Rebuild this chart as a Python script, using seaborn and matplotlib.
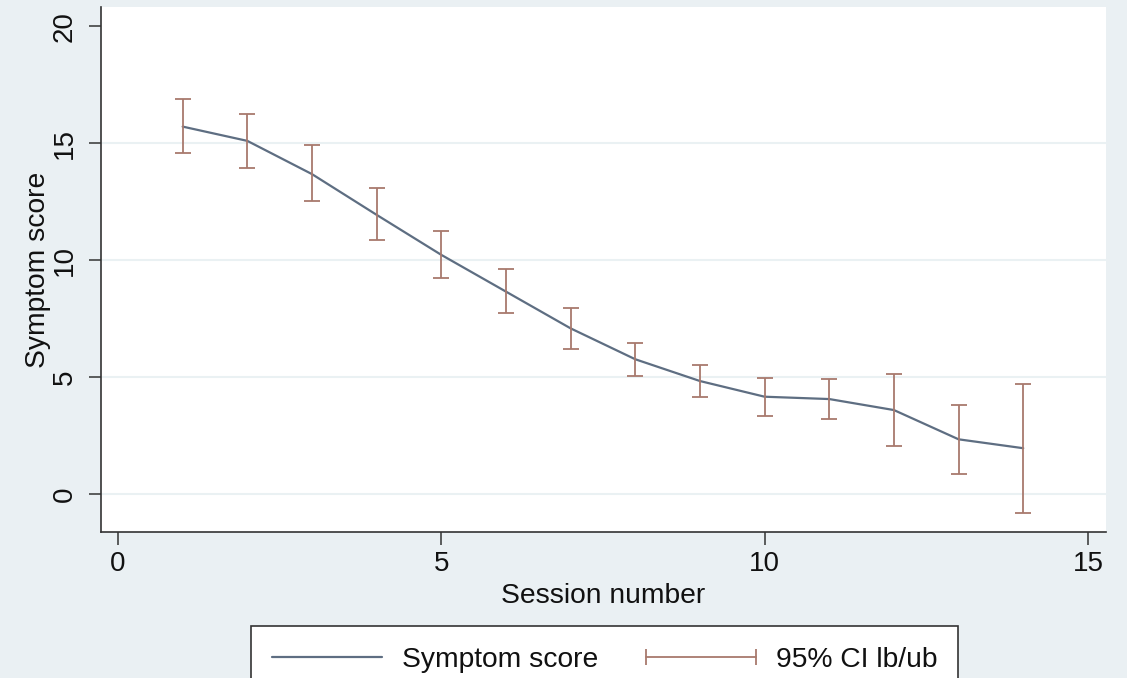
import pandas as pd
import seaborn as sns
import matplotlib.pyplot as plt
from matplotlib.lines import Line2D
from matplotlib.legend_handler import HandlerLine2D

# values
sessions = [1, 2, 3, 4, 5, 6, 7, 8, 9, 10, 11, 12, 13, 14]
score = [15.71, 15.10, 13.68, 11.94, 10.23, 8.66, 7.09, 5.77, 4.84, 4.17, 4.07, 3.60, 2.35, 1.97]
ci_lb = [14.57, 13.96, 12.55, 10.85, 9.23, 7.75, 6.20, 5.06, 4.17, 3.35, 3.23, 2.08, 0.87, -0.81]
ci_ub = [16.88, 16.26, 14.91, 13.08, 11.26, 9.64, 7.95, 6.45, 5.53, 4.98, 4.91, 5.13, 3.83, 4.71]

df = pd.DataFrame({"session": sessions, "score": score, "lb": ci_lb, "ub": ci_ub})

BG = "#EAF0F3"
LINE_C = "#5E6E82"
CI_C = "#A8796D"
AX_C = "#333333"

sns.set_theme(style="white")
plt.rcParams["font.family"] = ["Liberation Sans", "DejaVu Sans"]

fig = plt.figure(figsize=(11.27, 6.78), dpi=100, facecolor=BG)
ax = fig.add_axes([101 / 1127, 1 - 532 / 678, (1106 - 101) / 1127, (532 - 7) / 678])
ax.set_facecolor("white")

# grid lines (Stata style: light, not at top tick)
for g in [0, 5, 10, 15]:
    ax.axhline(g, color="#EAF1F3", lw=1.5, zorder=0)

sns.lineplot(data=df, x="session", y="score", ax=ax, color=LINE_C, lw=1.6, zorder=2)
ax.errorbar(df["session"], (df["lb"] + df["ub"]) / 2, yerr=(df["ub"] - df["lb"]) / 2,
            fmt="none", ecolor=CI_C, elinewidth=1.3, capsize=5.5, capthick=1.3, zorder=3)

ax.set_xlim(-0.263, 15.28)
ax.set_ylim(-1.61, 20.82)
ax.set_xticks([0, 5, 10, 15])
ax.set_yticks([0, 5, 10, 15, 20])
ax.set_yticklabels(["0", "5", "10", "15", "20"], rotation=90, va="center")

for side in ["top", "right"]:
    ax.spines[side].set_visible(False)
for side in ["left", "bottom"]:
    ax.spines[side].set_color(AX_C)
    ax.spines[side].set_linewidth(1.2)

ax.tick_params(axis="both", which="major", direction="out", length=9, width=1.1,
               color=AX_C, labelsize=20, labelcolor="#111111")
ax.tick_params(axis="x", pad=5)
ax.tick_params(axis="y", pad=8)
ax.tick_params(left=True, bottom=True)

ax.set_xlabel("Session number", fontsize=20.3, color="#111111", labelpad=4)
ax.set_ylabel("Symptom score", fontsize=20.3, color="#111111", labelpad=0)

h_line = Line2D([], [], color=LINE_C, lw=1.6)
h_ci = Line2D([], [], color=CI_C, lw=1.3, marker="|", markersize=12, markeredgewidth=1.3)
leg = fig.legend([h_line, h_ci], ["Symptom score", "95% CI lb/ub"], ncol=2,
                 loc="upper left", bbox_to_anchor=(251 / 1127, 1 - 626 / 678),
                 borderaxespad=0, fontsize=20.3, frameon=True, fancybox=False,
                 framealpha=1, handlelength=3.9, handletextpad=0.7,
                 columnspacing=1.7, borderpad=0.75,
                 handler_map={h_ci: HandlerLine2D(numpoints=2, marker_pad=0)})
leg.get_frame().set_edgecolor(AX_C)
leg.get_frame().set_linewidth(1.2)
leg.get_frame().set_facecolor("white")
for t in leg.get_texts():
    t.set_color("#111111")

fig.savefig("out.png", dpi=100, facecolor=BG)
